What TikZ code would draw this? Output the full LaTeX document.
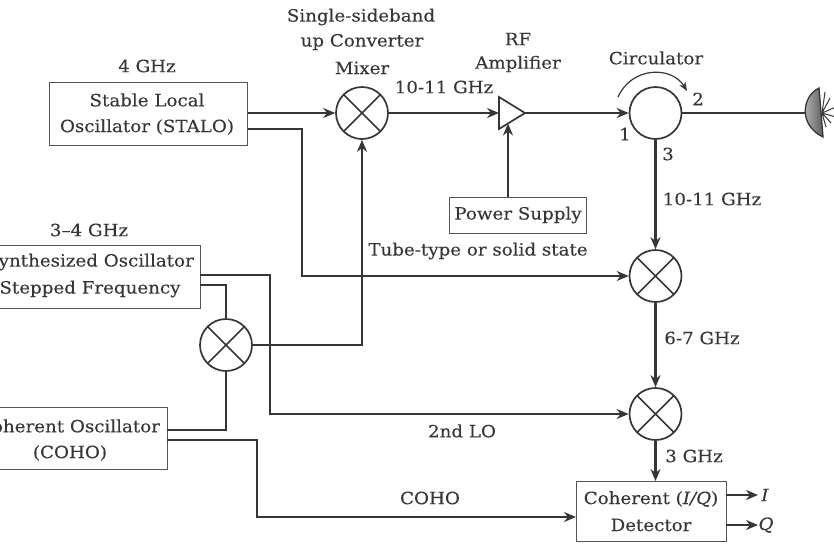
\documentclass[tikz,border=0pt]{standalone}
\usepackage{fontspec}
\setmainfont[FakeStretch=1.08,FakeBold=0.15]{DejaVu Serif}
\usetikzlibrary{arrows.meta,calc}
\definecolor{ink}{HTML}{363636}
\tikzset{
  x=1pt,y=-1pt,
  conn/.style={draw=ink,line width=2.3pt,line join=miter},
  arr/.style={conn,-{Stealth[length=12pt,width=10pt]}},
  box/.style={draw=ink!85,line width=1.4pt,fill=white,inner sep=0pt,anchor=north west},
  lbl/.style={text=ink,inner sep=0pt,font=\fontsize{16.9}{18}\selectfont},
  mixer/.style={circle,draw=ink,line width=1.7pt,minimum size=52pt,inner sep=0pt,fill=white,
    path picture={\draw[ink,line width=1.7pt]
      (path picture bounding box.north west)--(path picture bounding box.south east)
      (path picture bounding box.north east)--(path picture bounding box.south west);}},
  port/.style={circle,draw=ink,line width=1.7pt,minimum size=52pt,inner sep=0pt,fill=white},
}
\begin{document}
\begin{tikzpicture}
\useasboundingbox (0,0) rectangle (834,544);
\clip (0,0) rectangle (834,544);
% mixers and circulator
\node[mixer] (m1) at (362,113) {};
\node[mixer] (m2) at (655.5,276) {};
\node[mixer] (m3) at (655.5,414) {};
\node[mixer] (m4) at (226,345) {};
\node[port] (circ) at (655.5,113) {};
% boxes
\node[box,minimum width=198pt,minimum height=63pt] (stalo) at (49,82) {};
\node[box,minimum width=137pt,minimum height=36pt] (power) at (449,197) {};
\node[box,minimum width=225pt,minimum height=63pt] (synth) at (-25,245) {};
\node[box,minimum width=197pt,minimum height=62pt] (coho) at (-30,407) {};
\node[box,minimum width=150pt,minimum height=60pt] (det) at (576,481) {};
% box-side ports
\coordinate (staloA) at (stalo.east |- m1);
\coordinate (staloB) at ($(stalo.east)+(0,15)$);
\coordinate (synA) at (200,275);
\coordinate (synB) at (200,285);
\coordinate (cohoA) at (167,430);
\coordinate (cohoB) at (167,440);
\coordinate (detIn) at (576,517);
\coordinate (detI) at (726,495);
\coordinate (detQ) at (726,525);
\coordinate (outI) at (758,495);
\coordinate (outQ) at (758,525);
% amplifier
\coordinate (ampIn) at (499,113);
\coordinate (ampTop) at (499,97);
\coordinate (ampBot) at (499,129);
\coordinate (ampOut) at (525,113);
\coordinate (ampFeed) at (508,123.5);
\coordinate (powerUp) at (508,197);
% dish
\coordinate (dishFoot) at (806,113);
\coordinate (dishTop) at (819,88);
\coordinate (dishBot) at (823,137);
\coordinate (feed) at (822,113);
% connectors
\draw[arr] (staloA) -- (m1.west);
\draw[arr] (m1.east) -- (ampIn);
\draw[arr] (ampOut) -- (circ.west);
\draw[conn] (circ.east) -- (dishFoot);
\draw[arr] (circ.south) -- (m2.north);
\draw[arr] (m2.south) -- (m3.north);
\draw[arr] (m3.south) -- (m3.south |- det.north);
\draw[arr] (powerUp) -- (ampFeed);
\draw[arr] (staloB) -| (302,276) -- (m2.west);
\draw[arr] (synA) -| (270,414) -- (m3.west);
\draw[conn] (synB) -| (m4.north);
\draw[conn] (m4.south) |- (cohoA);
\draw[arr] (m4.east) -| (m1.south);
\draw[arr] (cohoB) -| (257,517) -- (detIn);
\draw[arr] (detI) -- (outI);
\draw[arr] (detQ) -- (outQ);
% amplifier triangle
\draw[ink,line width=1.7pt,fill=white,line join=miter] (ampTop) -- (ampOut) -- (ampBot) -- cycle;
% circulator arc
\draw[ink,line width=1.2pt,-{Stealth[length=9pt,width=7pt]}] (618,97) .. controls (632,66) and (672,66) .. (687,91);
% dish
\shade[left color=ink!25,right color=ink!80] (dishTop) .. controls (802,96) and (798,125) .. (dishBot) -- cycle;
\draw[ink,line width=1.3pt] (dishTop) .. controls (802,96) and (798,125) .. (dishBot) -- cycle;
\draw[ink,line width=1pt] (feed) -- (825,92) (feed) -- (830,98) (feed) -- (836,107) (feed) -- (836,117) (feed) -- (831,123) (feed) -- (826,127);
% labels
\node[lbl] (t1) at (361,17) {Single-sideband};
\node[lbl] (t2) at (362,42) {up Converter};
\node[lbl] (t3) at (362,68) {Mixer};
\node[lbl] (t4) at (147,66) {4 GHz};
\node[lbl] (t5) at (147,100) {Stable Local};
\node[lbl] (t6) at (147,127) {Oscillator (STALO)};
\node[lbl] (t7) at (444,87) {10-11 GHz};
\node[lbl] (t8) at (518,39) {RF};
\node[lbl] (t9) at (518,64) {Amplifier};
\node[lbl] (t10) at (656,58) {Circulator};
\node[lbl] (t11) at (698,99) {2};
\node[lbl] (t12) at (625,134) {1};
\node[lbl] (t13) at (668,154) {3};
\node[lbl] (t14) at (712,199) {10-11 GHz};
\node[lbl] (t15) at (518,215) {Power Supply};
\node[lbl] (t16) at (478,251) {Tube-type or solid state};
\node[lbl] (t17) at (89,230) {3--4 GHz};
\node[lbl] (t18) at (90,262) {Synthesized Oscillator};
\node[lbl] (t19) at (90,289) {Stepped Frequency};
\node[lbl] (t20) at (702,338) {6-7 GHz};
\node[lbl] (t21) at (69,426) {Coherent Oscillator};
\node[lbl] (t22) at (70,453) {(COHO)};
\node[lbl] (t23) at (462,431) {2nd LO};
\node[lbl] (t24) at (694,456) {3 GHz};
\node[lbl] (t25) at (430,498) {COHO};
\node[lbl] (t26) at (651,499) {Coherent (\textit{I/Q})};
\node[lbl] (t27) at (651,525) {Detector};
\node[lbl] (t28) at (765,495) {\textit{I}};
\node[lbl] (t29) at (766,525) {\textit{Q}};
\end{tikzpicture}
\end{document}
